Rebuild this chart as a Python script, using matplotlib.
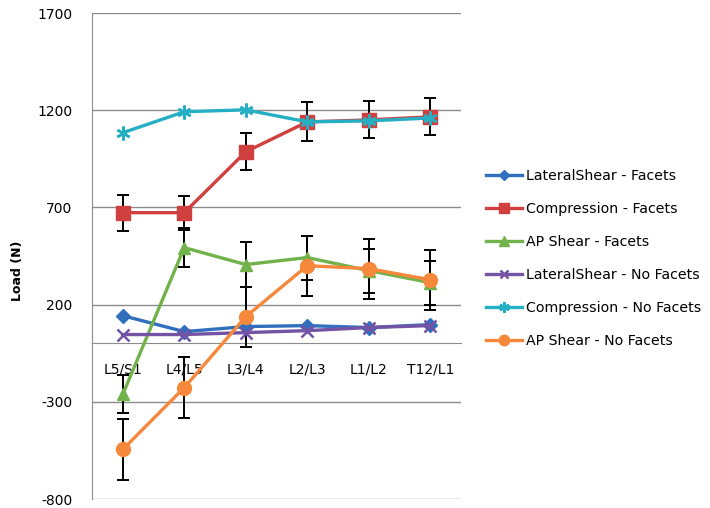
import numpy as np
import matplotlib.pyplot as plt

plt.rcParams["axes.unicode_minus"] = False

levels = ["L5/S1", "L4/L5", "L3/L4", "L2/L3", "L1/L2", "T12/L1"]

lateral_facets = [143, 61, 87, 92, 82, 97]
compression_facets = [673, 673, 986, 1140, 1150, 1166]
ap_facets = [-262, 493, 406, 442, 375, 313]
lateral_no_facets = [46, 46, 56, 66, 82, 92]
compression_no_facets = [1084, 1192, 1202, 1140, 1145, 1160]
ap_no_facets = [-545, -227, 138, 400, 385, 328]

compression_facets_err = [92, 87, 95, 100, 95, 95]
ap_facets_err = [98, 100, 115, 113, 113, 113]
ap_no_facets_err = [158, 155, 155, 155, 155, 155]

# asterisk-like star, as in the spreadsheet style
star = (6, 2, 0)

series = [
    ("LateralShear - Facets", lateral_facets, None, "#2F6FBE", "D", 7),
    ("Compression - Facets", compression_facets, compression_facets_err, "#D0403E", "s", 10),
    ("AP Shear - Facets", ap_facets, ap_facets_err, "#72B24A", "^", 9),
    ("LateralShear - No Facets", lateral_no_facets, None, "#7452A4", "x", 8),
    ("Compression - No Facets", compression_no_facets, None, "#25AFC4", star, 10),
    ("AP Shear - No Facets", ap_no_facets, ap_no_facets_err, "#F5883A", "o", 10),
]

fig = plt.figure(figsize=(7.1, 5.08), dpi=100)
ax = fig.add_axes([0.1296, 0.0177, 0.5197, 0.9567])

x = np.arange(len(levels))
handles = []
for label, vals, err, color, marker, ms in series:
    if err is not None:
        ax.errorbar(x, vals, yerr=err, fmt="none", ecolor="black",
                    elinewidth=1.4, capsize=4, capthick=1.4, zorder=3)
    mew = 1.8 if marker in ("x", star) else 1
    h, = ax.plot(x, vals, color=color, lw=2.4, marker=marker, ms=ms,
                 mec=color, mfc=color, mew=mew, zorder=4, label=label)
    handles.append(h)

ax.set_xlim(-0.5, len(levels) - 0.5)
ax.set_ylim(-800, 1700)
ax.set_yticks([-800, -300, 200, 700, 1200, 1700])
ax.yaxis.grid(True, color="#8c8c8c", lw=1)
ax.set_axisbelow(True)

ax.set_xticks(x)
ax.set_xticklabels(levels)
ax.spines["bottom"].set_position(("data", 0))
ax.spines["bottom"].set_color("#8c8c8c")
ax.spines["left"].set_color("#8c8c8c")
ax.spines["top"].set_visible(False)
ax.spines["right"].set_visible(False)
ax.tick_params(axis="x", length=0, pad=14, labelsize=10)
ax.tick_params(axis="y", length=0, pad=14, labelsize=10)

ax.set_ylabel("Load (N)", fontsize=9, fontweight="bold")
ax.yaxis.set_label_coords(-0.184, 0.47)

fig.legend(handles=handles, loc="upper left", bbox_to_anchor=(0.667, 0.693),
           frameon=False, fontsize=10.2, handlelength=2.5, handletextpad=0.3,
           labelspacing=1.34, markerscale=0.75)

fig.savefig("out.png", dpi=100)
